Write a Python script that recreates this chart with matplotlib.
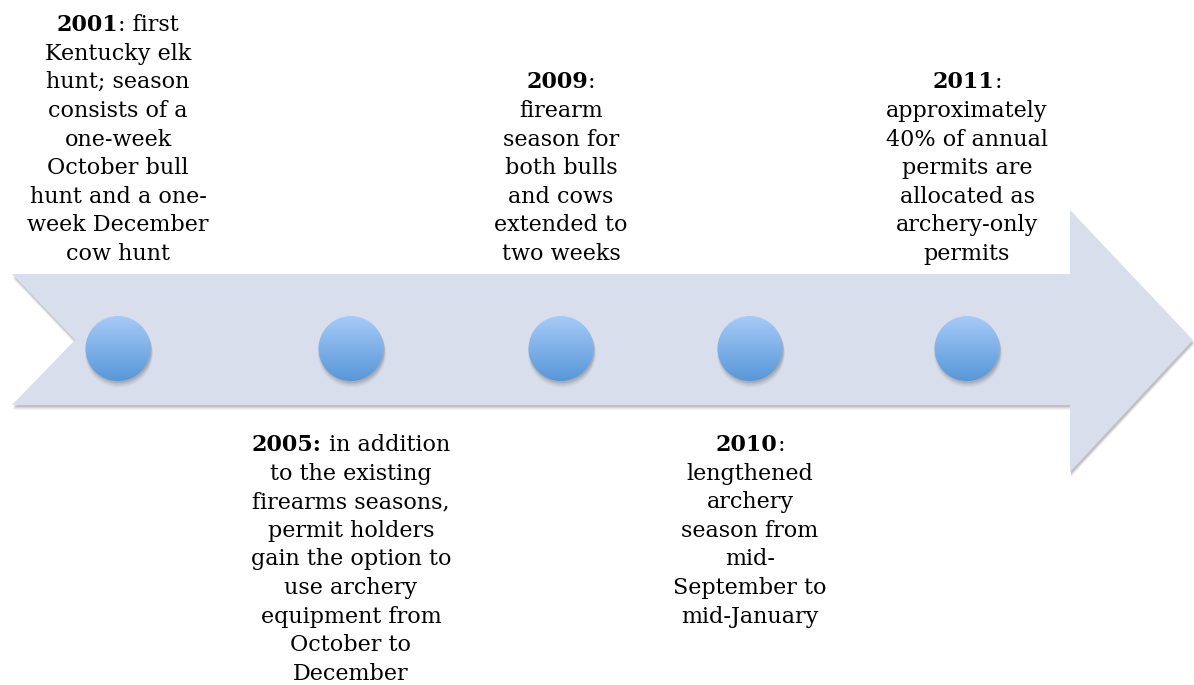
import matplotlib
matplotlib.use("Agg")
import matplotlib.pyplot as plt
import numpy as np
from matplotlib.patches import Polygon, Circle

# timeline events
years = ["2001", "2005", "2009", "2010", "2011"]
year_labels = ["2001", "2005:", "2009", "2010", "2011"]
first_rest = [": first", " in addition", ":", ":", ":"]
descriptions = [
    ["Kentucky elk", "hunt; season", "consists of a", "one-week",
     "October bull", "hunt and a one-", "week December", "cow hunt"],
    ["to the existing", "firearms seasons,", "permit holders",
     "gain the option to", "use archery", "equipment from",
     "October to", "December"],
    ["firearm", "season for", "both bulls", "and cows", "extended to",
     "two weeks"],
    ["lengthened", "archery", "season from", "mid-", "September to",
     "mid-January"],
    ["approximately", "40% of annual", "permits are", "allocated as",
     "archery-only", "permits"],
]
above = [True, False, True, False, True]

# layout (pixel units)
W, H = 1194, 685
marker_x = [118, 351, 561, 750, 967]
marker_y = 348.5
marker_r = 32.5
line_h = 28.6
font = "DejaVu Serif"
fsize = 16

fig = plt.figure(figsize=(W / 100, H / 100), dpi=100)
ax = fig.add_axes([0, 0, 1, 1])

# arrow with a soft drop shadow
arrow_pts = np.array([(12, 274), (1070, 274), (1070, 210), (1193, 340),
                      (1070, 472), (1070, 405), (12, 405), (75, 340)])
for k, a in enumerate([0.05, 0.07, 0.09, 0.12]):
    off = 5 - k
    ax.add_patch(Polygon(arrow_pts + np.array([1, off]), closed=True,
                         facecolor="#303030", edgecolor="none", alpha=a))
ax.add_patch(Polygon(arrow_pts, closed=True, facecolor="#d9deec",
                     edgecolor="none"))

# circles with vertical gradient
top_c = np.array([0xa8, 0xcb, 0xf8]) / 255
bot_c = np.array([0x56, 0x96, 0xd8]) / 255
t = np.linspace(0, 1, 256)[:, None]
grad = top_c * (1 - t) + bot_c * t
grad = np.repeat(grad[:, None, :], 4, axis=1)
for cx in marker_x:
    for k, a in enumerate([0.04, 0.06, 0.08, 0.1]):
        ax.add_patch(Circle((cx + 1, marker_y + 5 - k), marker_r + 1.5 - k * 0.5,
                            facecolor="#202020", edgecolor="none", alpha=a,
                            zorder=2))
    clip = Circle((cx, marker_y), marker_r, transform=ax.transData,
                  facecolor="none", edgecolor="none")
    ax.add_patch(clip)
    im = ax.imshow(grad, extent=(cx - marker_r - 1, cx + marker_r + 1,
                                 marker_y + marker_r + 1, marker_y - marker_r - 1),
                   origin="upper", aspect="auto", interpolation="bilinear",
                   zorder=3)
    im.set_clip_path(clip)

ax.set_xlim(0, W)
ax.set_ylim(H, 0)
ax.axis("off")

# text blocks; first line has a bold year
renderer = fig.canvas.get_renderer()
for i, cx in enumerate(marker_x):
    n = 1 + len(descriptions[i])
    if above[i]:
        y0 = 254 - (n - 1) * line_h
    else:
        y0 = 445
    tb = ax.text(0, y0, year_labels[i], fontsize=fsize, family=font,
                 weight="bold", ha="left", va="center")
    tr = ax.text(0, y0, first_rest[i], fontsize=fsize, family=font,
                 ha="left", va="center")
    w1 = tb.get_window_extent(renderer).width
    w2 = tr.get_window_extent(renderer).width
    x0 = cx - (w1 + w2) / 2
    tb.set_x(x0)
    tr.set_x(x0 + w1)
    for j, line in enumerate(descriptions[i]):
        ax.text(cx, y0 + (j + 1) * line_h, line, fontsize=fsize, family=font,
                ha="center", va="center")

fig.savefig("out.png", dpi=100)
